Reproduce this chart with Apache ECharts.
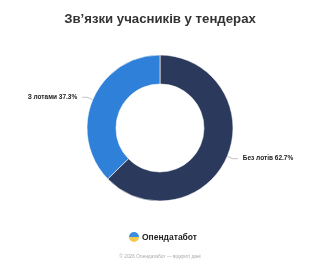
<!DOCTYPE html>
<html><head><meta charset="utf-8">
<script src="https://cdn.jsdelivr.net/npm/echarts@6/dist/echarts.min.js"></script>
<style>html,body{margin:0;padding:0;background:#fff}#c{width:320px;height:267px}</style>
</head><body><div id="c"></div>
<script>
const categories = ['Без лотів', 'З лотами'];
const values = [62.7, 37.3];
const colors = ['#2b3a5c', '#2f80d8'];
const chart = echarts.init(document.getElementById('c'));
chart.setOption({
  animation: false,
  title: {
    text: 'Зв\u2019язки учасників у тендерах',
    left: 'center', top: 8,
    textStyle: {fontFamily: 'Liberation Sans, Arial', fontSize: 13.2, fontWeight: 'bold', color: '#333'}
  },
  graphic: [
    {type: 'sector', shape: {cx: 134, cy: 237, r: 5, startAngle: Math.PI, endAngle: 2 * Math.PI}, style: {fill: '#3a8fe0'}},
    {type: 'sector', shape: {cx: 134, cy: 237, r: 5, startAngle: 0, endAngle: Math.PI}, style: {fill: '#f2c94c'}},
    {type: 'text', left: 142, top: 233, style: {text: 'Опендатабот', fontFamily: 'Liberation Sans, Arial', fontSize: 8.5, fontWeight: 'bold', fill: '#222'}},
    {type: 'text', left: 'center', top: 254, style: {text: '© 2026 Опендатабот — відкриті дані', fontFamily: 'Liberation Sans, Arial', fontSize: 4.8, fill: '#aaa'}}
  ],
  series: [{
    type: 'pie',
    center: [160, 128],
    radius: [44, 73],
    startAngle: 90,
    clockwise: true,
    itemStyle: {borderColor: '#fff', borderWidth: 0.6},
    label: {
      show: true,
      formatter: p => p.name + ' ' + p.value + '%',
      fontFamily: 'Liberation Sans, Arial', fontSize: 6.5, fontWeight: 'bold', color: '#222'
    },
    labelLine: {length: 6, length2: 5, lineStyle: {color: '#999', width: 0.6}},
    data: categories.map((n, i) => ({name: n, value: values[i], itemStyle: {color: colors[i]}}))
  }]
});
</script></body></html>
